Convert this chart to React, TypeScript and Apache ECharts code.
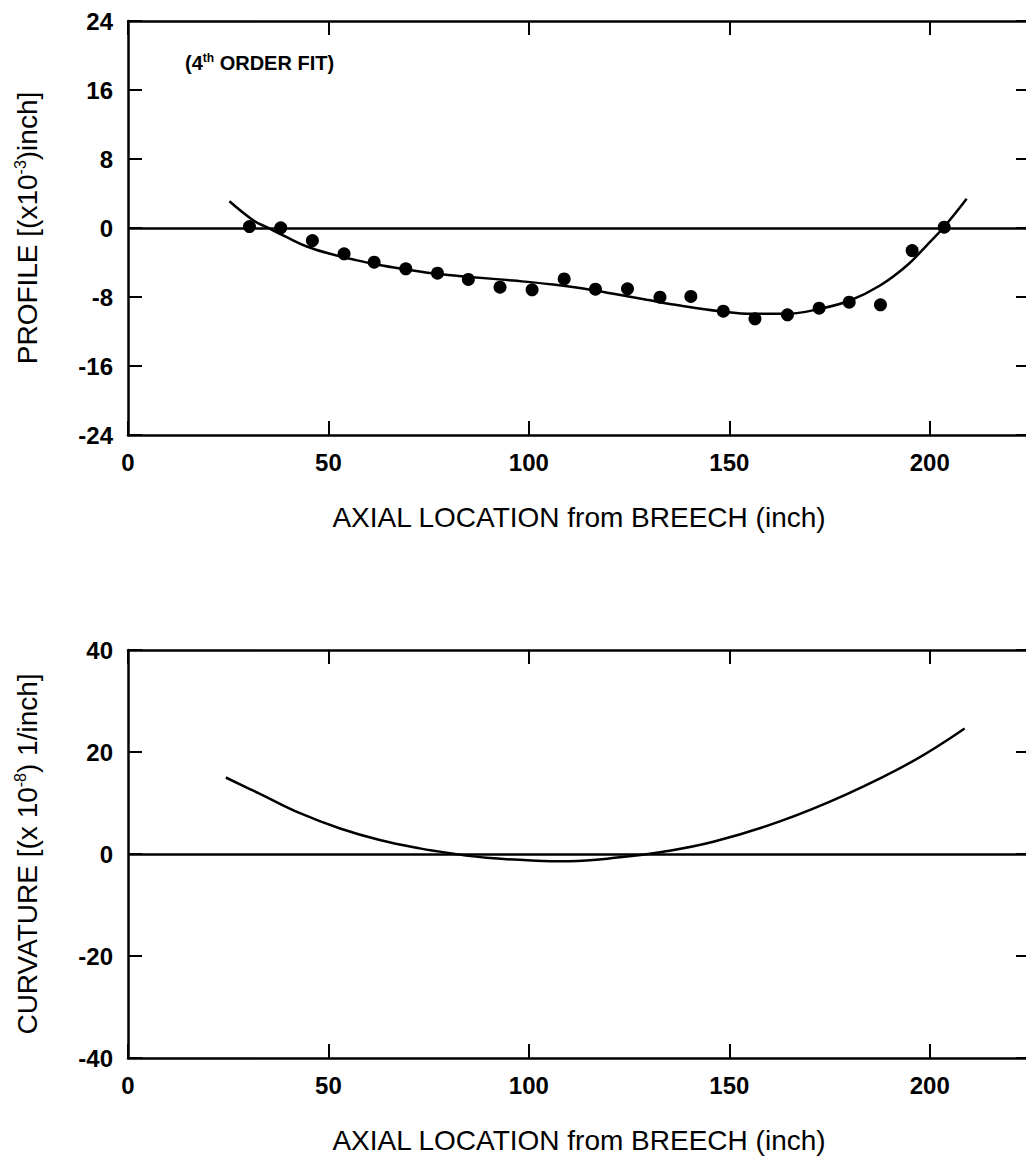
import { useEffect, useRef } from "react";
import * as echarts from "echarts";

const FONT = "'Liberation Sans', Arial, Helvetica, sans-serif";

// Top panel: measured profile points
const profilePointX = [30.3, 38.1, 46.0, 53.9, 61.4, 69.3, 77.2, 84.9, 92.8, 100.8, 108.8, 116.6, 124.6, 132.7, 140.4, 148.5, 156.4, 164.5, 172.4, 179.9, 187.7, 195.6, 203.6];
const profilePointY = [0.17, 0.02, -1.45, -3.0, -3.96, -4.73, -5.24, -5.97, -6.86, -7.17, -5.9, -7.1, -7.05, -8.02, -7.94, -9.64, -10.53, -10.07, -9.29, -8.6, -8.9, -2.61, 0.1];

// Top panel: 4th order fit curve
const profileFitX = [25.3, 31.3, 34.6, 39.6, 44.6, 50.4, 56.2, 62.0, 69.5, 77.0, 86.1, 96.1, 106.1, 112.7, 121.1, 129.4, 137.7, 147.7, 155.9, 164.3, 172.6, 180.1, 187.6, 194.3, 199.2, 203.5, 209.2];
const profileFitY = [3.1, 0.87, 0.09, -1.07, -2.14, -2.99, -3.65, -4.23, -4.81, -5.31, -5.7, -6.1, -6.55, -6.95, -7.63, -8.32, -8.99, -9.65, -9.95, -9.95, -9.37, -8.41, -6.67, -4.35, -2.03, 0.09, 3.39];

// Bottom panel: curvature curve
const curvatureX = [24.4, 32.9, 42.9, 52.9, 62.8, 72.8, 80.3, 89.4, 101.9, 110.0, 122.7, 133.5, 146.0, 162.6, 179.2, 195.8, 208.7];
const curvatureY = [15.0, 11.8, 8.0, 5.0, 2.75, 1.1, 0.15, -0.75, -1.3, -1.4, -0.65, 0.45, 2.4, 6.4, 11.7, 18.2, 24.6];

// Axis settings
const xTicks = { min: 0, max: 225, interval: 50 };
const profileTicks = { min: -24, max: 24, interval: 8 };
const curvatureTicks = { min: -40, max: 40, interval: 20 };

const xName = "AXIAL LOCATION from BREECH (inch)";
const profileName = "{a|PROFILE [(x10}{s|-3}{a|)inch]}";
const curvatureName = "{a|CURVATURE [(x 10}{s|-8}{a|) 1/inch]}";
const noteText = "{a|(4}{s|th}{a| ORDER FIT)}";

const zip = (xs: number[], ys: number[]) => xs.map((x, i) => [x, ys[i]]);

const lineW = 2.5;
const axisLineStyle = { color: "#000", width: lineW };
const tickStyle = { show: true, inside: true, length: 14, lineStyle: { color: "#000", width: 2 } };
const labelStyle = { color: "#000", fontSize: 24, fontWeight: "bold", fontFamily: FONT };

function xAxes(gridIndex: number) {
  return [
    {
      type: "value",
      gridIndex,
      position: "bottom",
      ...xTicks,
      axisLine: { show: true, onZero: false, lineStyle: axisLineStyle },
      axisTick: tickStyle,
      axisLabel: { ...labelStyle, margin: 15, showMaxLabel: false },
      splitLine: { show: false },
      name: xName,
      nameLocation: "middle",
      nameGap: 68,
      nameTextStyle: { color: "#000", fontSize: 28, fontFamily: FONT },
    },
    {
      type: "value",
      gridIndex,
      position: "top",
      ...xTicks,
      axisLine: { show: true, onZero: false, lineStyle: axisLineStyle },
      axisTick: tickStyle,
      axisLabel: { show: false },
      splitLine: { show: false },
    },
  ];
}

function yAxes(gridIndex: number, ticks: any, name: string) {
  const rich = {
    a: { fontSize: 28, fontFamily: FONT, color: "#000", lineHeight: 30 },
    s: { fontSize: 16, fontFamily: FONT, color: "#000", verticalAlign: "top", lineHeight: 16 },
  };
  return [
    {
      type: "value",
      gridIndex,
      position: "left",
      ...ticks,
      axisLine: { show: true, onZero: false, lineStyle: axisLineStyle },
      axisTick: tickStyle,
      axisLabel: { ...labelStyle, margin: 15 },
      splitLine: { show: false },
      name,
      nameLocation: "middle",
      nameGap: 86,
      nameTextStyle: { color: "#000", fontSize: 28, fontFamily: FONT, rich },
    },
    {
      type: "value",
      gridIndex,
      position: "right",
      ...ticks,
      axisLine: { show: true, onZero: false, lineStyle: axisLineStyle },
      axisTick: tickStyle,
      axisLabel: { show: false },
      splitLine: { show: false },
    },
  ];
}

const zeroLine = {
  silent: true,
  symbol: ["none", "none"],
  label: { show: false },
  lineStyle: { color: "#000", width: lineW, type: "solid", opacity: 1 },
  data: [{ yAxis: 0 }],
};

export default function App() {
  const ref = useRef<HTMLDivElement>(null);
  useEffect(() => {
    if (!ref.current) return;
    const chart = echarts.init(ref.current, null, { renderer: "svg" });
    chart.setOption({
      animation: false,
      backgroundColor: "#fff",
      textStyle: { fontFamily: FONT },
      grid: [
        { left: 128, top: 21, width: 902, height: 414, outerBoundsMode: "none" },
        { left: 128, top: 650, width: 902, height: 408, outerBoundsMode: "none" },
      ],
      xAxis: [...xAxes(0), ...xAxes(1)],
      yAxis: [...yAxes(0, profileTicks, profileName), ...yAxes(1, curvatureTicks, curvatureName)],
      graphic: [
        {
          type: "text",
          left: 185,
          top: 52,
          style: {
            text: noteText,
            rich: {
              a: { fontSize: 20, fontWeight: "bold", fontFamily: FONT, fill: "#000", lineHeight: 22 },
              s: { fontSize: 12, fontWeight: "bold", fontFamily: FONT, fill: "#000", verticalAlign: "top", lineHeight: 12 },
            },
          },
        },
      ],
      series: [
        {
          type: "line",
          xAxisIndex: 0,
          yAxisIndex: 0,
          data: zip(profileFitX, profileFitY),
          smooth: 0.4,
          showSymbol: false,
          symbol: "none",
          lineStyle: { color: "#000", width: lineW },
          markLine: zeroLine,
          z: 2,
        },
        {
          type: "scatter",
          xAxisIndex: 0,
          yAxisIndex: 0,
          data: zip(profilePointX, profilePointY),
          symbol: "circle",
          symbolSize: 13,
          itemStyle: { color: "#000", opacity: 1 },
          z: 3,
        },
        {
          type: "line",
          xAxisIndex: 2,
          yAxisIndex: 2,
          data: zip(curvatureX, curvatureY),
          smooth: 0.4,
          showSymbol: false,
          symbol: "none",
          lineStyle: { color: "#000", width: lineW },
          markLine: zeroLine,
          z: 2,
        },
      ],
    });
    return () => chart.dispose();
  }, []);
  return (
    <div style={{ position: "absolute", left: 0, top: 0, width: 1026, height: 1161, overflow: "hidden", background: "#fff" }}>
      <div ref={ref} style={{ width: 1040, height: 1161 }} />
    </div>
  );
}
